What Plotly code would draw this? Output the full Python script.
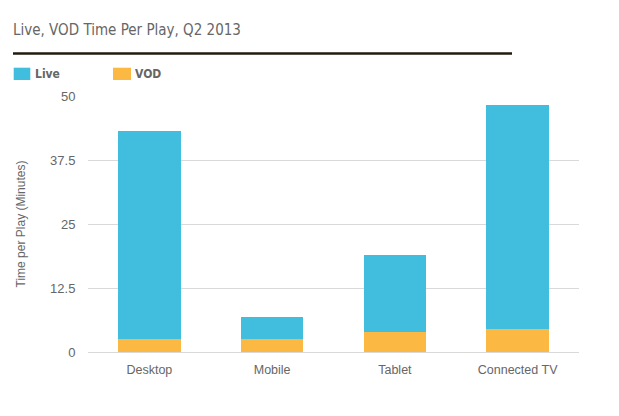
import plotly.graph_objects as go

categories = ["Desktop", "Mobile", "Tablet", "Connected TV"]
vod = [2.5, 2.5, 4.0, 4.4]
live = [40.6, 4.3, 14.9, 43.8]
y_ticks = [0, 12.5, 25, 37.5, 50]
y_tick_labels = ["0", "12.5", "25", "37.5", "50"]

LIVE_COLOR = "#41bddd"
VOD_COLOR = "#fbb944"
TEXT_COLOR = "#666666"
NARROW = "DejaVu Sans Condensed, Liberation Sans Narrow, sans-serif"
SANS = "Liberation Sans, Arial, sans-serif"

W, H = 619, 416
ML, MR, MT, MB = 88, 40, 96, 64
PW, PH = W - ML - MR, H - MT - MB


def px(x):
    return (x - ML) / PW


def py(y):
    return (H - MB - y) / PH


fig = go.Figure()
fig.add_trace(go.Bar(x=categories, y=vod, name="VOD", marker=dict(color=VOD_COLOR, line=dict(width=0))))
fig.add_trace(go.Bar(x=categories, y=live, name="Live", marker=dict(color=LIVE_COLOR, line=dict(width=0))))

shapes = [
    dict(type="line", xref="paper", yref="paper", x0=px(13), x1=px(512), y0=py(53.5), y1=py(53.5),
         line=dict(color="#231a0f", width=2.5)),
    dict(type="rect", xref="paper", yref="paper", x0=px(13.7), x1=px(30.3), y0=py(80), y1=py(67.7),
         fillcolor=LIVE_COLOR, line=dict(width=0)),
    dict(type="rect", xref="paper", yref="paper", x0=px(113), x1=px(131), y0=py(80), y1=py(67.7),
         fillcolor=VOD_COLOR, line=dict(width=0)),
]
annotations = [
    dict(text="<b>Live</b>", xref="paper", yref="paper", x=px(33), y=py(74), xanchor="left", yanchor="middle",
         showarrow=False, font=dict(family=NARROW, size=12, color=TEXT_COLOR)),
    dict(text="<b>VOD</b>", xref="paper", yref="paper", x=px(133), y=py(74), xanchor="left", yanchor="middle",
         showarrow=False, font=dict(family=NARROW, size=12, color=TEXT_COLOR)),
]

fig.update_layout(
    width=W, height=H,
    margin=dict(l=ML, r=MR, t=MT, b=MB),
    barmode="stack",
    bargap=0.49,
    showlegend=False,
    paper_bgcolor="white",
    plot_bgcolor="white",
    title=dict(text="Live, VOD Time Per Play, Q2 2013", x=13 / W, xanchor="left", xref="container",
               y=1 - 30 / H, yanchor="middle", yref="container",
               font=dict(family=NARROW, size=15, color=TEXT_COLOR)),
    shapes=shapes,
    annotations=annotations,
    xaxis=dict(showgrid=False, showline=False, zeroline=False, ticks="outside", ticklen=6, tickcolor="rgba(0,0,0,0)",
               tickfont=dict(family=SANS, size=12.5, color=TEXT_COLOR)),
    yaxis=dict(range=[0, 50], tickvals=y_ticks, ticktext=y_tick_labels, showgrid=True, gridcolor="#d9d9d9",
               gridwidth=1, zeroline=True, zerolinecolor="#d9d9d9", zerolinewidth=1, showline=False,
               ticks="outside", ticklen=9, tickcolor="rgba(0,0,0,0)",
               tickfont=dict(family=SANS, size=13, color=TEXT_COLOR),
               title=dict(text="Time per Play (Minutes)", standoff=21,
                          font=dict(family=SANS, size=12, color=TEXT_COLOR))),
)

fig.write_html("out.html")
